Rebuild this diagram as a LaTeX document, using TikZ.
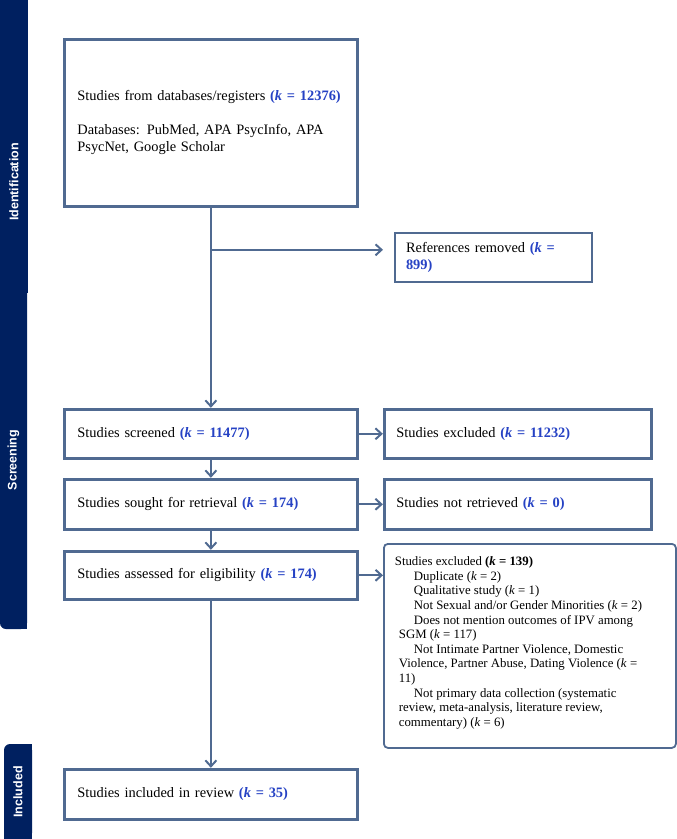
\documentclass[tikz,border=0pt]{standalone}
\usepackage{fontspec}
\setmainfont{Liberation Serif}
\newfontfamily\barfont{Liberation Sans}
\usetikzlibrary{arrows.meta, positioning}

\definecolor{boxline}{RGB}{80,106,145}
\definecolor{navybar}{RGB}{0,32,96}
\definecolor{kblue}{RGB}{38,66,196}
\newcommand{\kcount}[1]{\textcolor{kblue}{\textbf{(\textit{k} = #1)}}}

\begin{document}
\begin{tikzpicture}[
        x=1pt, y=-1pt,
        block/.style={rectangle, draw=boxline, line width=3pt, text width=267pt, inner xsep=13pt, align=left, minimum height=49pt, font=\fontsize{14.4}{17}\selectfont},
        sidebox/.style={block, text width=243pt, inner xsep=12pt},
        thinbox/.style={rectangle, draw=boxline, line width=2pt, text width=175pt, inner xsep=11pt, align=left, minimum height=49pt, font=\fontsize{14.4}{17}\selectfont},
        notebox/.style={rectangle, draw=boxline, line width=1.8pt, rounded corners=4pt, inner xsep=11pt, inner ysep=10pt, font=\fontsize{12.8}{14.6}\selectfont},
        barlabel/.style={rotate=90, text=white, font=\barfont\bfseries\fontsize{12.5}{15}\selectfont},
        arrow/.style={-{Straight Barb[length=6pt,width=11pt]}, draw=boxline, line width=2pt}
    ]
        \useasboundingbox (0,0) rectangle (677,839);

        % Thanh bên
        \fill[navybar] (0,0) rectangle (28,293);
        \fill[navybar, rounded corners=6pt] (0,280) rectangle (27,629);
        \fill[navybar] (14,280) rectangle (27,629);
        \fill[navybar, rounded corners=6pt] (4,744) rectangle (32,839);
        \fill[navybar] (4,800) rectangle (32,839);
        \fill[navybar] (18,744) rectangle (32,800);
        \node (ident) [barlabel] at (14,182) {Identification};
        \node (screen) [barlabel] at (13.5,460) {Screening};
        \node (incl) [barlabel] at (18,792) {Included};

        % Các khối
        \node (records) [block, line width=2.8pt, minimum height=167pt, anchor=north west] at (63,38) {Studies from databases/registers \kcount{12376}\\[17pt]
            Databases: PubMed, APA PsycInfo, APA\\PsycNet, Google Scholar};
        \node (removed) [thinbox, anchor=north west] at (394,232) {References removed \textcolor{kblue}{\textbf{(\textit{k} =}}\\\textcolor{kblue}{\textbf{899)}}};
        \node (screened) [block, below=200pt of records] {Studies screened \kcount{11477}};
        \node (sought) [block, minimum height=50pt, below=18pt of screened] {Studies sought for retrieval \kcount{174}};
        \node (assessed) [block, minimum height=48pt, below=19pt of sought] {Studies assessed for eligibility \kcount{174}};
        \node (included) [block, minimum height=50pt, below=167pt of assessed] {Studies included in review \kcount{35}};
        \node (excluded) [sidebox, right=24pt of screened] {Studies excluded \kcount{11232}};
        \node (notretrieved) [sidebox, minimum height=50pt, right=24pt of sought] {Studies not retrieved \kcount{0}};
        \node (reasons) [notebox, anchor=north west] at (383,543) {\parbox[c][184pt][t]{270pt}{\raggedright\vspace*{3pt}
            Studies excluded \textbf{(\textit{k} = 139)}\\
            \hspace*{19pt}Duplicate (\textit{k} = 2)\\
            \hspace*{19pt}Qualitative study (\textit{k} = 1)\\
            \hspace*{19pt}Not Sexual and/or Gender Minorities (\textit{k} = 2)\\
            \hspace*{19pt}Does not mention outcomes of IPV among\\
            \hspace*{4pt}SGM (\textit{k} = 117)\\
            \hspace*{19pt}Not Intimate Partner Violence, Domestic\\
            \hspace*{4pt}Violence, Partner Abuse, Dating Violence (\textit{k} =\\
            \hspace*{4pt}11)\\
            \hspace*{19pt}Not primary data collection (systematic\\
            \hspace*{4pt}review, meta-analysis, literature review,\\
            \hspace*{4pt}commentary) (\textit{k} = 6)}};

        % Các mũi tên kết nối
        \coordinate (split) at ([yshift=-42pt]records.south);
        \draw [arrow] (records.south) -- (screened.north);
        \draw [arrow, shorten >=11pt] (split) -- (split -| removed.west);
        \draw [arrow] (screened.south) -- (sought.north);
        \draw [arrow] (sought.south) -- (assessed.north);
        \draw [arrow] (assessed.south) -- (included.north);
        \draw [arrow] (screened.east) -- (excluded.west);
        \draw [arrow] (sought.east) -- (notretrieved.west);
        \draw [arrow] (assessed.east) -- (assessed.east -| reasons.west);
    \end{tikzpicture}
\end{document}
